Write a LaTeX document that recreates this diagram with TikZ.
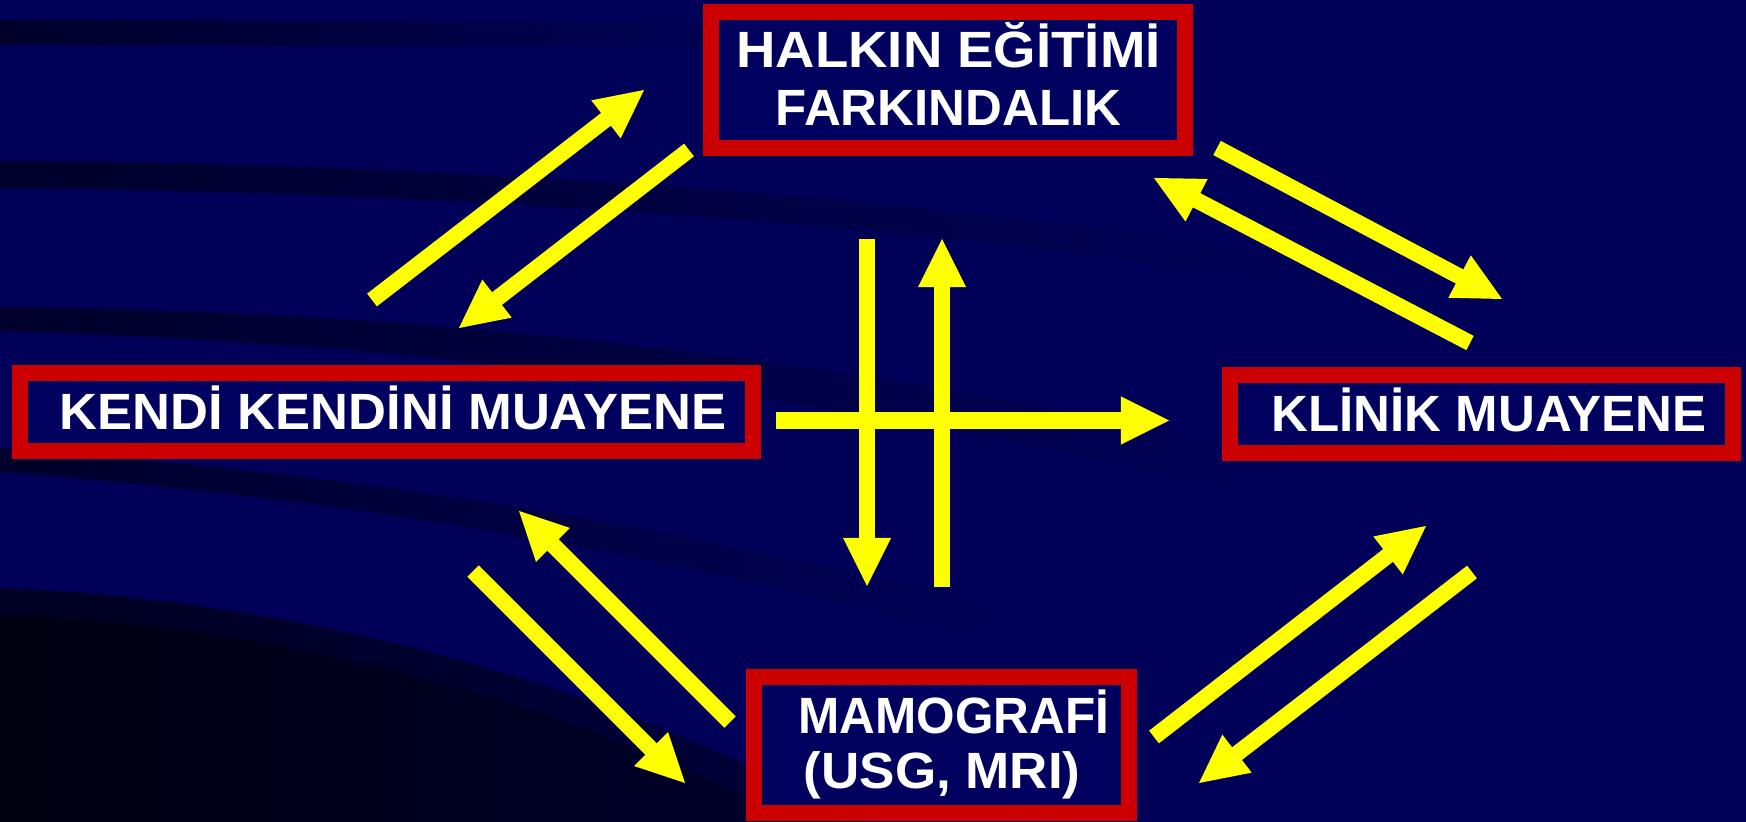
\documentclass[tikz,border=0pt]{standalone}
\usepackage{fontspec}
\setmainfont{Liberation Sans}
\usetikzlibrary{calc}
\definecolor{bg}{RGB}{0,0,88}
\definecolor{bandc}{RGB}{0,0,42}
\definecolor{eband}{RGB}{0,0,34}
\definecolor{eband2}{RGB}{0,0,58}
\definecolor{deep}{RGB}{0,0,16}
\definecolor{deep2}{RGB}{0,0,44}
\definecolor{boxred}{RGB}{204,0,0}
\definecolor{boxfill}{RGB}{0,0,94}
\definecolor{yel}{RGB}{255,255,0}
\tikzset{
  box/.style={draw=boxred, line width=0.16cm, fill=boxfill, inner sep=0pt, rectangle},
  lbl/.style={text=white, font=\fontsize{14.5}{17}\selectfont\bfseries, inner sep=0pt, anchor=base},
  lblw/.style={lbl, anchor=base west},
  shaft/.style={draw=yel, line width=0.16cm},
  head/.style={fill=yel},
}
\newcommand\yarrow[2]{%
  \path ($(#2)!0.48cm!(#1)$) coordinate (hb);
  \draw[shaft] (#1) -- ($(hb)!0.03cm!(#2)$);
  \fill[head] (#2) -- ($(hb)!0.24cm!90:(#2)$) -- ($(hb)!0.24cm!-90:(#2)$) -- cycle;
}
\begin{document}
\begin{tikzpicture}[x=0.01cm, y=-0.01cm]
\useasboundingbox (0,0) rectangle (1746,822);
% background
\fill[bg] (0,0) rectangle (1746,822);
% swooshes
\shade[left color=bandc, right color=bg] (0,20) -- (780,22) -- (780,47) -- (0,45) -- cycle;
\shade[left color=bandc, right color=bg] (0,161) .. controls (450,163) and (1000,200) .. (1350,268)
  -- (1350,296) .. controls (1000,228) and (450,191) .. (0,188) -- cycle;
\shade[left color=bandc, right color=bg] (0,307) .. controls (500,312) and (900,370) .. (1300,460)
  -- (1300,505) .. controls (900,410) and (500,345) .. (0,331) -- cycle;
\shade[left color=bandc, right color=bg] (0,448) .. controls (400,478) and (700,530) .. (1050,620)
  -- (1050,655) .. controls (700,563) and (400,502) .. (0,472) -- cycle;
\shade[left color=eband, right color=eband2] (0,588) .. controls (300,600) and (600,680) .. (860,822)
  -- (0,822) -- cycle;
\shade[left color=deep, right color=deep2] (0,615) .. controls (280,625) and (560,700) .. (800,822)
  -- (0,822) -- cycle;
% boxes
\node[box, minimum width=4.74cm, minimum height=1.36cm] (halk) at (948,80) {};
\node[box, minimum width=7.33cm, minimum height=0.78cm] (kendi) at (386.5,412) {};
\node[box, minimum width=5.03cm, minimum height=0.78cm] (klinik) at (1481.5,414) {};
\node[box, minimum width=3.75cm, minimum height=1.36cm] (mamo) at (941.5,745) {};
% texts
\node[lbl] (halk1) at (948.5,68) {\scalebox{1.07}[1]{HALKIN EĞİTİMİ}};
\node[lbl] (halk2) at (948.5,126) {FARKINDALIK};
\node[lbl] (kenditext) at (393,430) {\scalebox{1.03}[1]{KENDİ KENDİNİ MUAYENE}};
\node[lbl] (klinitext) at (1489,432) {KLİNİK MUAYENE};
\node[lblw] (mamo1) at (798,733) {\scalebox{0.97}[1]{MAMOGRAFİ}};
\node[lblw] (mamo2) at (803,788) {\scalebox{1.04}[1]{(USG, MRI)}};
% arrow end points
\coordinate (a1t) at (372,300);  \coordinate (a1p) at (644,90);
\coordinate (a2t) at (689,150);  \coordinate (a2p) at (459,328);
\coordinate (a3t) at (1217,148); \coordinate (a3p) at (1502,299);
\coordinate (a4t) at (1470,343); \coordinate (a4p) at (1154,178);
\coordinate (a5t) at (776,420.5); \coordinate (a5p) at (1169,420.5);
\coordinate (a6t) at (867,239);  \coordinate (a6p) at (867,586);
\coordinate (a7t) at (942,587);  \coordinate (a7p) at (942,239);
\coordinate (a8t) at (730,722);  \coordinate (a8p) at (519,511);
\coordinate (a9t) at (473,571);  \coordinate (a9p) at (685,783);
\coordinate (a10t) at (1154,737); \coordinate (a10p) at (1426,526);
\coordinate (a11t) at (1472,572); \coordinate (a11p) at (1199,783);
% arrows
\yarrow{a1t}{a1p}
\yarrow{a2t}{a2p}
\yarrow{a3t}{a3p}
\yarrow{a4t}{a4p}
\yarrow{a5t}{a5p}
\yarrow{a6t}{a6p}
\yarrow{a7t}{a7p}
\yarrow{a8t}{a8p}
\yarrow{a9t}{a9p}
\yarrow{a10t}{a10p}
\yarrow{a11t}{a11p}
\end{tikzpicture}
\end{document}
